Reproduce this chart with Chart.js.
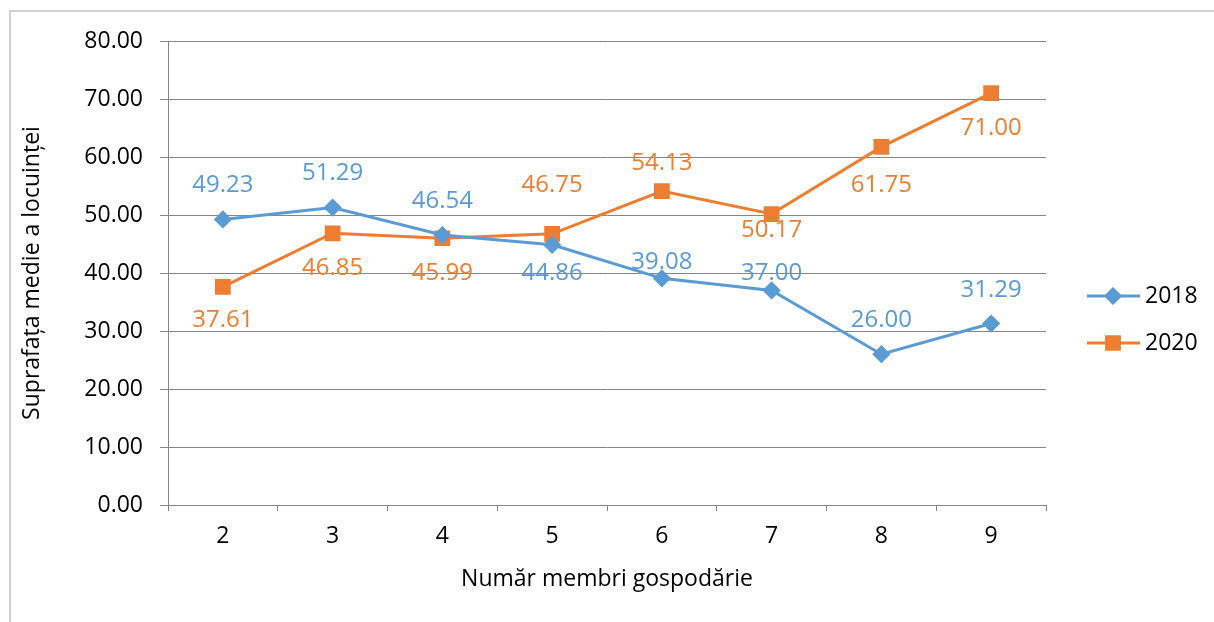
<!DOCTYPE html>
<html>
<head>
<meta charset="utf-8">
<script src="https://cdn.jsdelivr.net/npm/chart.js@4/dist/chart.umd.min.js"></script>
<style>
    html, body { margin: 0; padding: 0; background: #ffffff; }
    #cutie { position: relative; width: 1214px; height: 622px; }
</style>
</head>
<body>
<div id="cutie"><canvas id="grafic"></canvas></div>
<script>
const membri = ["2", "3", "4", "5", "6", "7", "8", "9"];
const suprafata2018 = [49.23, 51.29, 46.54, 44.86, 39.08, 37.0, 26.0, 31.29];
const suprafata2020 = [37.61, 46.85, 45.99, 46.75, 54.13, 50.17, 61.75, 71.0];
const etichetaAni = ["2018", "2020"];

// deplasarea etichetelor fata de punct (px, negativ = deasupra)
const deplasare2018 = [-34, -34, -34, 28, -16, -17, -34, -33];
const deplasare2020 = [33, 35, 35, -49, -28, 16, 38, 35];

const albastru = "#5B9BD5";
const portocaliu = "#ED7D31";
const gri = "#868686";
const font = "'Open Sans', 'Liberation Sans', sans-serif";

const etichetePlugin = {
    id: "etichete",
    afterDatasetsDraw(chart) {
        const ctx = chart.ctx;
        const deplasari = [deplasare2018, deplasare2020];
        ctx.save();
        ctx.font = "24px " + font;
        ctx.textAlign = "center";
        ctx.textBaseline = "middle";
        chart.data.datasets.forEach((ds, i) => {
            const meta = chart.getDatasetMeta(i);
            ctx.fillStyle = ds.borderColor;
            meta.data.forEach((pct, j) => {
                ctx.fillText(ds.data[j].toFixed(2), pct.x, pct.y + deplasari[i][j]);
            });
        });
        ctx.restore();
    },
};

const legendaPlugin = {
    id: "legenda",
    afterDraw(chart) {
        const ctx = chart.ctx;
        const pozY = [296, 343];
        ctx.save();
        chart.data.datasets.forEach((ds, i) => {
            const y = pozY[i];
            ctx.strokeStyle = ds.borderColor;
            ctx.lineWidth = 3;
            ctx.beginPath();
            ctx.moveTo(1087, y);
            ctx.lineTo(1140, y);
            ctx.stroke();
            Chart.helpers.drawPoint(ctx, {
                pointStyle: ds.pointStyle,
                radius: ds.pointRadius,
                borderWidth: 1,
            }, 1113, y);
            ctx.fillStyle = ds.borderColor;
            ctx.fill();
            ctx.fillStyle = "#000000";
            ctx.font = "23px " + font;
            ctx.textAlign = "left";
            ctx.textBaseline = "middle";
            ctx.fillText(ds.label, 1145, y);
        });
        ctx.restore();
    },
};

const chenarPlugin = {
    id: "chenar",
    beforeDraw(chart) {
        const ctx = chart.ctx;
        ctx.save();
        ctx.strokeStyle = "#d0d0d0";
        ctx.lineWidth = 2;
        ctx.strokeRect(10, 11, 1300, 700);
        ctx.restore();
    },
};

new Chart(document.getElementById("grafic"), {
    type: "line",
    data: {
        labels: membri,
        datasets: [
            {
                label: etichetaAni[0],
                data: suprafata2018,
                borderColor: albastru,
                backgroundColor: albastru,
                borderWidth: 3,
                pointStyle: "rectRot",
                pointRadius: 7,
                pointHoverRadius: 7,
                tension: 0,
            },
            {
                label: etichetaAni[1],
                data: suprafata2020,
                borderColor: portocaliu,
                backgroundColor: portocaliu,
                borderWidth: 3,
                pointStyle: "rect",
                pointRadius: 9,
                pointHoverRadius: 9,
                tension: 0,
            },
        ],
    },
    options: {
        responsive: true,
        maintainAspectRatio: false,
        animation: false,
        layout: { padding: { left: 10, top: 41, right: 168, bottom: 0 } },
        plugins: {
            legend: { display: false },
            tooltip: { enabled: false },
        },
        scales: {
            x: {
                offset: true,
                afterFit: (scala) => { scala.height = 117; },
                grid: {
                    offset: true,
                    drawOnChartArea: false,
                    drawTicks: true,
                    tickLength: 6,
                    color: gri,
                },
                border: { color: gri, width: 1 },
                ticks: { color: "#000000", font: { family: font, size: 23 }, padding: 12, maxRotation: 0 },
                title: {
                    display: true,
                    text: "Număr membri gospodărie",
                    color: "#000000",
                    font: { family: font, size: 23 },
                    padding: { top: 0, bottom: 29 },
                },
            },
            y: {
                min: 0,
                max: 80,
                afterFit: (scala) => { scala.width = 158; },
                grid: { color: gri, tickLength: 8 },
                border: { color: gri, width: 1 },
                ticks: {
                    stepSize: 10,
                    color: "#000000",
                    font: { family: font, size: 23 },
                    padding: 17,
                    callback: (v) => v.toFixed(2),
                },
                title: {
                    display: true,
                    text: "Suprafața medie a locuinței",
                    color: "#000000",
                    font: { family: font, size: 23 },
                    padding: { top: 9, bottom: 0 },
                },
            },
        },
    },
    plugins: [chenarPlugin, etichetePlugin, legendaPlugin],
});
</script>
</body>
</html>
